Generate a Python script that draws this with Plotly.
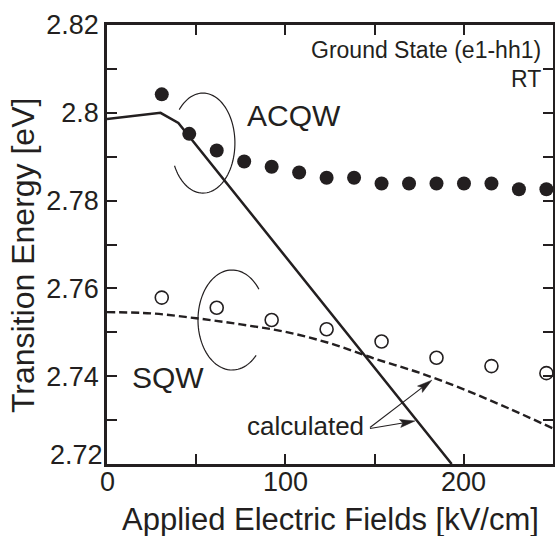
import numpy as np
import plotly.graph_objects as go

INK = "#231f20"
FONT = "Liberation Sans, Arial, sans-serif"

# ---- data ----
acqw_x = [30.7, 46.1, 61.5, 76.9, 92.3, 107.7, 123.1, 138.5, 153.9, 169.3, 184.7, 200.1, 215.5, 230.9, 246.3]
acqw_y = [2.8042, 2.7952, 2.7914, 2.7889, 2.7877, 2.7864, 2.7852, 2.7852, 2.7839, 2.7839, 2.7839, 2.7839, 2.7839, 2.7826, 2.7826]

sqw_x = [30.7, 61.5, 92.3, 123.1, 153.9, 184.7, 215.5, 246.3]
sqw_y = [2.7579, 2.7556, 2.7528, 2.7507, 2.7479, 2.7442, 2.7423, 2.7407]

calc_acqw_x = [0, 30, 40, 193.2]
calc_acqw_y = [2.7986, 2.8000, 2.7977, 2.7200]

calc_sqw_x = [0, 25, 50, 75, 100, 125, 150, 175, 200, 225, 250]
calc_sqw_y = [2.7546, 2.7543, 2.7532, 2.7518, 2.7501, 2.7475, 2.7440, 2.7408, 2.7370, 2.7327, 2.7281]

x_ticks = [0, 50, 100, 150, 200, 250]
x_labels = {0: "0", 100: "100", 200: "200"}
y_ticks = [2.72, 2.73, 2.74, 2.75, 2.76, 2.77, 2.78, 2.79, 2.80, 2.81, 2.82]
y_ticktext = ["", "", "2.74", "", "2.76", "", "2.78", "", "2.8", "", "2.82"]

X_RANGE = [0, 250]
Y_RANGE = [2.72, 2.82]
W, H = 555, 536
ML, MR, MT, MB = 107, 2, 25, 72
PW, PH = W - ML - MR, H - MT - MB


def to_px(x, y):
    return (ML + (x - X_RANGE[0]) / (X_RANGE[1] - X_RANGE[0]) * PW,
            MT + PH - (y - Y_RANGE[0]) / (Y_RANGE[1] - Y_RANGE[0]) * PH)


def to_data(px, py):
    return (X_RANGE[0] + (px - ML) / PW * (X_RANGE[1] - X_RANGE[0]),
            Y_RANGE[0] + (MT + PH - py) / PH * (Y_RANGE[1] - Y_RANGE[0]))


fig = go.Figure()

fig.add_trace(go.Scatter(x=calc_acqw_x, y=calc_acqw_y, mode="lines",
                         line=dict(color=INK, width=2.5), showlegend=False))
fig.add_trace(go.Scatter(x=calc_sqw_x, y=calc_sqw_y, mode="lines",
                         line=dict(color=INK, width=2.4, dash="8px,4px", shape="spline"),
                         showlegend=False))
fig.add_trace(go.Scatter(x=acqw_x, y=acqw_y, mode="markers", cliponaxis=False,
                         marker=dict(symbol="circle", size=14, color=INK, line=dict(width=0)),
                         showlegend=False))
fig.add_trace(go.Scatter(x=sqw_x, y=sqw_y, mode="markers", cliponaxis=False,
                         marker=dict(symbol="circle-open", size=13, color=INK, line=dict(width=1.6)),
                         showlegend=False))


def arc_path(cx, cy, rx, ry, t0, t1, n=80):
    t = np.radians(np.linspace(t0, t1, n))
    xs = cx + rx * np.cos(t)
    ys = cy - ry * np.sin(t)
    pts = [f"{x:.4f},{y:.5f}" for x, y in zip(xs, ys)]
    return "M " + " L ".join(pts)


# bracket ellipses (screen-angle convention, y down)
fig.add_shape(type="path", xref="x", yref="y",
              path=arc_path(53.8, 2.7931, 17.9, 0.01139, -138, 153),
              line=dict(color=INK, width=1.2))
fig.add_shape(type="path", xref="x", yref="y",
              path=arc_path(70.1, 2.7528, 19.1, 0.01139, 45, 322),
              line=dict(color=INK, width=1.2))


def arrow(tail, tip, L=15, Wd=8):
    tx, ty = to_px(*tail)
    hx, hy = to_px(*tip)
    d = np.array([hx - tx, hy - ty])
    d = d / np.linalg.norm(d)
    n = np.array([-d[1], d[0]])
    h = np.array([hx, hy])
    base = h - L * d
    notch = h - 0.82 * L * d
    shaft_end = notch
    p1 = base + Wd / 2 * n
    p2 = base - Wd / 2 * n
    line_path = "M {},{} L {},{}".format(*to_data(tx, ty), *to_data(*shaft_end))
    head = [h, p1, notch, p2]
    head_path = "M " + " L ".join("{:.4f},{:.5f}".format(*to_data(*p)) for p in head) + " Z"
    fig.add_shape(type="path", xref="x", yref="y", path=line_path,
                  line=dict(color=INK, width=1.1))
    fig.add_shape(type="path", xref="x", yref="y", path=head_path,
                  fillcolor=INK, line=dict(color=INK, width=0.5))


arrow((147.4, 2.7283), (182.1, 2.7391))
arrow((147.4, 2.7281), (172.6, 2.7298))

ann_font = dict(family=FONT, color=INK)
annotations = [
    dict(text="Ground State (e1-hh1)", xref="paper", yref="paper", x=0.977, y=0.942,
         xanchor="right", yanchor="middle", showarrow=False, font=dict(size=23, **ann_font)),
    dict(text="RT", xref="paper", yref="paper", x=0.977, y=0.878,
         xanchor="right", yanchor="middle", showarrow=False, font=dict(size=23, **ann_font)),
    dict(text="ACQW", xref="x", yref="y", x=77.4, y=2.7993,
         xanchor="left", yanchor="middle", showarrow=False, font=dict(size=30, **ann_font)),
    dict(text="SQW", xref="x", yref="y", x=12.9, y=2.7398,
         xanchor="left", yanchor="middle", showarrow=False, font=dict(size=30, **ann_font)),
    dict(text="calculated", xref="x", yref="y", x=145.0, y=2.7287,
         xanchor="right", yanchor="middle", showarrow=False, font=dict(size=26, **ann_font)),
    dict(text="2.72", xref="paper", yref="y", x=0, y=2.72, xshift=-3, yshift=-7,
         xanchor="right", yanchor="bottom", showarrow=False,
         font=dict(size=27, **ann_font), borderpad=0),
    dict(text="Applied Electric Fields [kV/cm]", xref="paper", yref="paper",
         x=0.5, y=(MT + PH - 519) / PH, xanchor="center", yanchor="middle",
         showarrow=False, font=dict(size=31, **ann_font)),
    dict(text="Transition Energy [eV]", xref="paper", yref="paper", textangle=-90,
         x=(23 - ML) / PW, y=(MT + PH - 256) / PH, xanchor="center", yanchor="middle",
         showarrow=False, font=dict(size=32, **ann_font)),
]
for xv, lab in x_labels.items():
    annotations.append(dict(text=lab, xref="x", yref="paper", x=xv,
                            y=(MT + PH - 481.5) / PH, xanchor="center", yanchor="middle",
                            showarrow=False, font=dict(size=27, **ann_font)))

axis_common = dict(showline=True, linecolor=INK, linewidth=2.5, mirror="ticks",
                   ticks="inside", ticklen=10, tickwidth=2, tickcolor=INK,
                   showgrid=False, zeroline=False, automargin=False,
                   tickfont=dict(family=FONT, size=27, color=INK))

fig.update_layout(
    width=W, height=H,
    margin=dict(l=ML, r=MR, t=MT, b=MB),
    plot_bgcolor="white", paper_bgcolor="white",
    xaxis=dict(range=X_RANGE, tickmode="array", tickvals=x_ticks,
               ticktext=[""] * len(x_ticks), **axis_common),
    yaxis=dict(range=Y_RANGE, tickmode="array", tickvals=y_ticks, ticktext=y_ticktext,
               **axis_common),
    annotations=annotations,
)

fig.write_html("out.html")
